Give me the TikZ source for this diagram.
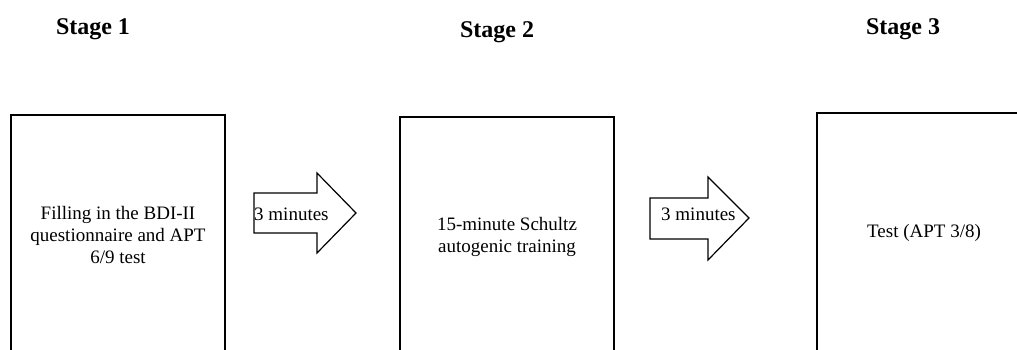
\documentclass[tikz,border=0pt]{standalone}
\usepackage{fontspec}
\setmainfont{Liberation Serif}
\begin{document}
\begin{tikzpicture}[x=1pt,y=-1pt,
  stagebox/.style={draw, line width=1.2pt, minimum width=214pt, minimum height=240pt,
    inner sep=0pt, align=center, font=\fontsize{19}{22}\selectfont},
  heading/.style={font=\fontsize{24}{28}\selectfont\bfseries, anchor=base, inner sep=0pt},
  blockarrow/.style={draw, line width=1.2pt, fill=white, line join=miter},
  gaplabel/.style={anchor=west, inner sep=0pt, font=\fontsize{19}{22}\selectfont}]
\useasboundingbox (0,0) rectangle (1017,350);
\clip (0,0) rectangle (1017,350);

% stage headings
\node[heading] (h1) at (93,35) {Stage 1};
\node[heading] (h2) at (497,38) {Stage 2};
\node[heading] (h3) at (903,35) {Stage 3};

% stage boxes (they run past the lower edge)
\node[stagebox] (s1) at (118,235) {Filling in the BDI-II\\questionnaire and APT\\6/9 test};
\node[stagebox] (s2) at (507,237) {15-minute Schultz\\autogenic training};
\node[stagebox] (s3) at (924,233) {Test (APT 3/8)};

% block arrows for the pauses
\draw[blockarrow] (254,193) -- (317,193) -- (317,173) -- (356,213)
  -- (317,253) -- (317,233) -- (254,233) -- cycle;
\node[gaplabel] (p1) at (254,214) {3 minutes};

\draw[blockarrow] (650,198) -- (708,198) -- (708,177) -- (749,218)
  -- (708,260) -- (708,239) -- (650,239) -- cycle;
\node[gaplabel] (p2) at (661,214) {3 minutes};
\end{tikzpicture}
\end{document}
